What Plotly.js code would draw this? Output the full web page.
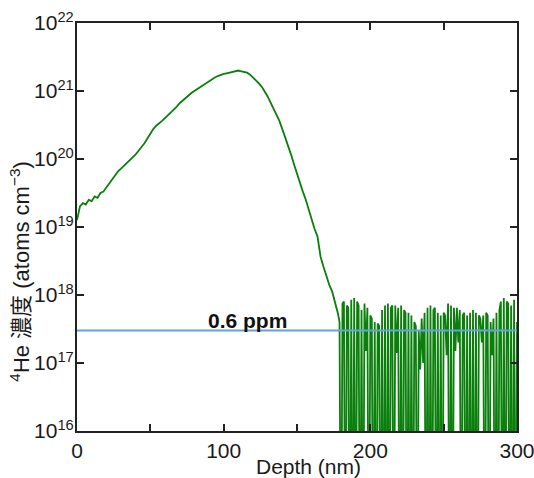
<!DOCTYPE html>
<html>
<head>
<meta charset="utf-8">
<script src="https://cdn.plot.ly/plotly-3.0.1.min.js"></script>
<style>html,body{margin:0;padding:0;background:#fff;}#chart{width:534px;height:478px;}</style>
</head>
<body>
<div id="chart"></div>
<script>
// Depth (nm) of the smooth implanted profile
const smoothDepth = [0,2,4,6,8,10,12,14,16,18,20,22,24,26,28,30,32,34,36,38,40,42,44,46,48,50,52,54,56,58,60,62,64,66,68,70,72,74,76,78,80,82,84,86,88,90,92,94,96,98,100,102,104,106,108,110,112,114,116,118,120,122,124,126,128,130,132,134,136,138,140,142,144,146,148,150,152,154,156,158,160,162,164,166,168,170,172,174,176,178];
// 4He concentration (atoms cm^-3)
const smoothConc = [1.26e19,2.0e19,2.24e19,2.14e19,2.51e19,2.40e19,2.82e19,2.69e19,3.16e19,3.31e19,3.80e19,4.37e19,5.01e19,5.89e19,6.61e19,7.24e19,7.94e19,8.71e19,9.77e19,1.07e20,1.17e20,1.32e20,1.48e20,1.70e20,2.00e20,2.40e20,2.75e20,3.09e20,3.31e20,3.63e20,3.98e20,4.37e20,4.90e20,5.37e20,5.89e20,6.61e20,7.24e20,7.94e20,8.71e20,9.33e20,1.00e21,1.07e21,1.15e21,1.23e21,1.29e21,1.38e21,1.48e21,1.58e21,1.66e21,1.74e21,1.78e21,1.82e21,1.86e21,1.95e21,1.95e21,2.00e21,1.95e21,1.91e21,1.86e21,1.74e21,1.58e21,1.45e21,1.29e21,1.15e21,1.00e21,8.32e20,6.76e20,5.50e20,4.68e20,3.63e20,2.75e20,2.09e20,1.58e20,1.15e20,8.32e19,6.03e19,4.37e19,3.31e19,2.51e19,1.78e19,1.26e19,9.33e18,7.24e18,3.72e18,2.63e18,1.91e18,1.41e18,1.12e18,7.94e17,5.25e17];
// Depth (nm) of the background (noise) region
const noiseDepth = [179,180,181,182,183,184,185,186,187,188,189,190,191,192,193,194,195,196,197,198,199,200,201,202,203,204,205,206,207,208,209,210,211,212,213,214,215,216,217,218,219,220,221,222,223,224,225,226,227,228,229,230,231,232,233,234,235,236,237,238,239,240,241,242,243,244,245,246,247,248,249,250,251,252,253,254,255,256,257,258,259,260,261,262,263,264,265,266,267,268,269,270,271,272,273,274,275,276,277,278,279,280,281,282,283,284,285,286,287,288,289,290,291,292,293,294,295,296,297,298,299,300];
const noiseConc = [4.0e17,0,7.5e17,8.0e17,0,7.0e17,6.5e17,0,8.5e17,0,9.0e17,0,8.0e17,7.0e17,0,6.0e17,0,7.5e17,1.5e17,6.5e17,0,5.0e17,4.5e17,0,4.0e17,0,3.8e17,3.5e17,0,6.0e17,0,7.0e17,0,7.5e17,0,6.5e17,7.0e17,0,7.0e17,1.4e17,6.5e17,0,7.0e17,0,6.0e17,5.5e17,0,5.5e17,0,5.0e17,0,4.0e17,3.5e17,0,3.0e17,8.0e16,4.5e17,1.0e17,5.5e17,0,6.5e17,0,7.0e17,0,6.0e17,6.5e17,0,5.5e17,0,5.0e17,0,5.5e17,5.0e17,1.3e17,7.5e17,0,7.0e17,0,6.5e17,1.5e17,6.5e17,2.0e17,6.0e17,0,5.0e17,5.5e17,0,5.0e17,0,5.5e17,0,6.0e17,0,5.5e17,0,5.0e17,4.5e17,2.0e17,5.0e17,0,5.5e17,5.0e17,0,4.0e17,1.3e17,4.5e17,0,5.5e17,0,6.0e17,8.0e17,0,9.0e17,0,8.0e17,7.5e17,0,7.0e17,0,8.5e17,0,4.0e17];
// Detection limit line
const limitDepth = [0,300];
const limitConc = [3.0e17,3.0e17];
const limitLabel = '0.6 ppm';
const xTickVals = [0,50,100,150,200,250,300];
const xTickText = ['0','','100','','200','','300'];
const yTickVals = [1e16,1e17,1e18,1e19,1e20,1e21,1e22];
const yTickText = ['10<sup>16</sup>','10<sup>17</sup>','10<sup>18</sup>','10<sup>19</sup>','10<sup>20</sup>','10<sup>21</sup>','10<sup>22</sup>'];
const xTitle = 'Depth (nm)';
const yTitle = '<sup>4</sup>He 濃度 (atoms cm<sup>−3</sup>)';

const depth = smoothDepth.concat(noiseDepth);
// zero counts are below the log axis: send them off the bottom of the plot
const conc = smoothConc.concat(noiseConc).map(v => v > 0 ? v : 1e13);

const fontFam = '"Liberation Sans", Arial, "Noto Sans CJK JP", sans-serif';
const data = [
  {x: depth, y: conc, type: 'scatter', mode: 'lines',
   line: {color: '#0b7f0b', width: 1.8}, hoverinfo: 'skip'},
  {x: limitDepth, y: limitConc, type: 'scatter', mode: 'lines',
   line: {color: '#62a3dc', width: 2}, hoverinfo: 'skip'}
];
const layout = {
  width: 534, height: 478,
  margin: {l: 77, r: 17, t: 23, b: 47},
  paper_bgcolor: '#fff', plot_bgcolor: '#fff',
  showlegend: false,
  font: {family: fontFam, size: 20, color: '#1a1a1a'},
  xaxis: {
    range: [0, 300], tickvals: xTickVals, ticktext: xTickText,
    ticks: 'inside', ticklen: 7, tickwidth: 2, tickcolor: '#222',
    showline: true, linewidth: 2, linecolor: '#222', mirror: 'ticks',
    showgrid: false, zeroline: false, ticklabeloverflow: 'allow',
    tickfont: {size: 21}
  },
  yaxis: {
    type: 'log', range: [16, 22], tickvals: yTickVals, ticktext: yTickText,
    ticks: 'inside', ticklen: 7, tickwidth: 2, tickcolor: '#222',
    showline: true, linewidth: 2, linecolor: '#222', mirror: 'ticks',
    showgrid: false, zeroline: false, ticklabelstandoff: -3,
    tickfont: {size: 21}
  },
  annotations: [
    {x: 116, y: Math.log10(limitConc[0]), xref: 'x', yref: 'y',
     text: '<b>' + limitLabel + '</b>', showarrow: false,
     yanchor: 'bottom', xanchor: 'center', yshift: -3,
     font: {size: 21, color: '#111'}},
    {x: 0.525, y: -(467 - 431) / 408, xref: 'paper', yref: 'paper', yanchor: 'middle', xanchor: 'center',
     text: xTitle, showarrow: false, font: {size: 21}},
    {x: -0.13, y: 0.39, xref: 'paper', yref: 'paper', xanchor: 'center', yanchor: 'middle',
     text: yTitle, textangle: -90, showarrow: false, font: {size: 22}}
  ]
};
Plotly.newPlot('chart', data, layout, {staticPlot: true, displayModeBar: false});
</script>
</body>
</html>
